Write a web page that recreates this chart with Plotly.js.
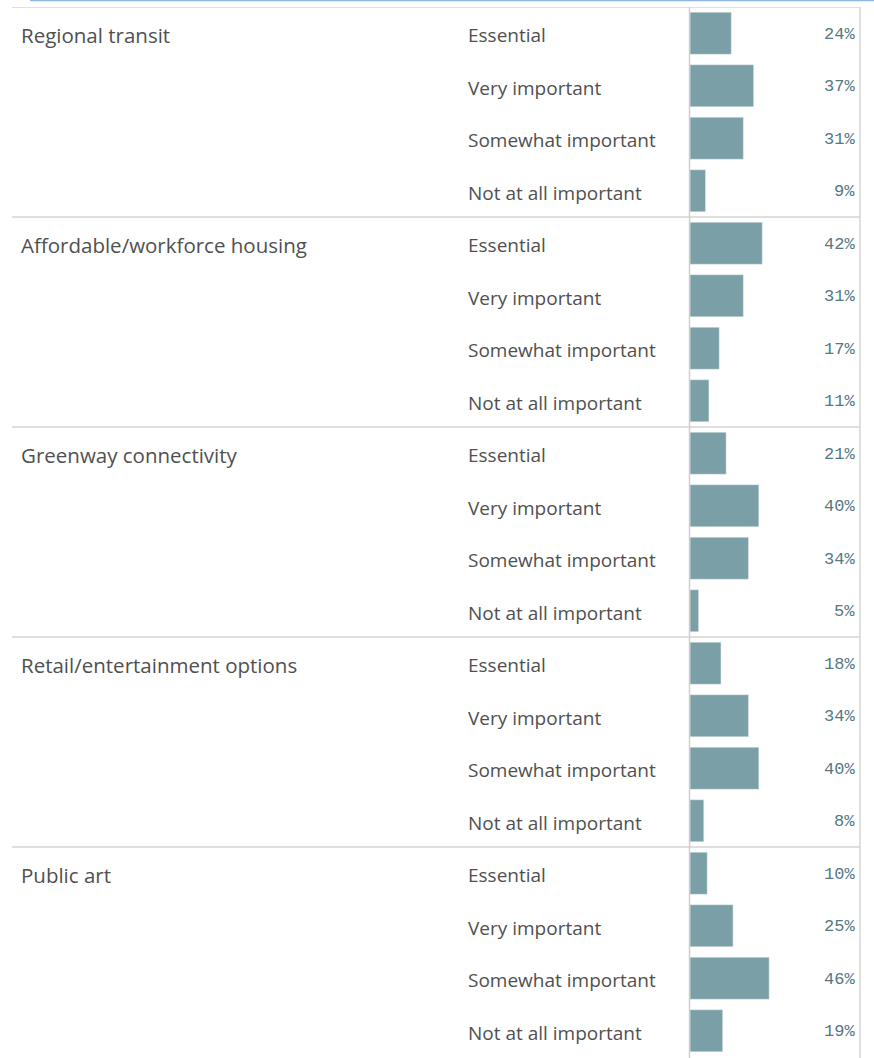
<!DOCTYPE html>
<html>
<head>
<meta charset="utf-8">
<script src="https://cdn.plot.ly/plotly-3.0.1.min.js"></script>
<style>
html,body{margin:0;padding:0;background:#fff;}
#chart{width:874px;height:1058px;}
</style>
</head>
<body>
<div id="chart"></div>
<script>
const groups = ["Regional transit", "Affordable/workforce housing", "Greenway connectivity", "Retail/entertainment options", "Public art"];
const levels = ["Essential", "Very important", "Somewhat important", "Not at all important"];
const regionalTransit = [24, 37, 31, 9];
const affordableHousing = [42, 31, 17, 11];
const greenwayConnectivity = [21, 40, 34, 5];
const retailEntertainment = [18, 34, 40, 8];
const publicArt = [10, 25, 46, 19];
const seriesByGroup = [regionalTransit, affordableHousing, greenwayConnectivity, retailEntertainment, publicArt];

const W = 874, H = 1058;
const L = 690, R = 14, T = 7, B = 1;
const plotW = W - L - R;
const px2paper = p => (p - L) / plotW;

const ys = [], xs = [], annotations = [], shapes = [];
groups.forEach((g, gi) => {
  levels.forEach((lv, li) => {
    const row = gi * levels.length + li;
    const v = seriesByGroup[gi][li];
    ys.push(row); xs.push(v);
    annotations.push({xref: 'paper', yref: 'y', x: px2paper(466), y: row, xanchor: 'left', yanchor: 'middle', yshift: -2,
      text: lv, showarrow: false, font: {family: 'Open Sans', size: 19, color: '#505050', weight: 500}});
    annotations.push({xref: 'paper', yref: 'y', x: px2paper(857), y: row, xanchor: 'right', yanchor: 'middle', yshift: -1,
      text: v + '%', showarrow: false, font: {family: 'Liberation Mono', size: 17, color: '#557883'}});
    if (li === 0) {
      annotations.push({xref: 'paper', yref: 'y', x: px2paper(19), y: row, xanchor: 'left', yanchor: 'middle', yshift: -2,
        text: g, showarrow: false, font: {family: 'Open Sans', size: 20.5, color: '#505050', weight: 500}});
    }
  });
  shapes.push({type: 'line', xref: 'paper', yref: 'y', x0: px2paper(12), x1: px2paper(860),
    y0: gi * levels.length - 0.5, y1: gi * levels.length - 0.5, line: {color: '#d4d4d4', width: 1.5}});
});
const nRows = groups.length * levels.length;
shapes.push({type: 'line', xref: 'paper', yref: 'paper', x0: px2paper(689.5), x1: px2paper(689.5), y0: 0 - B/(H-T-B), y1: 1, line: {color: '#cfcfcf', width: 1.5}});
shapes.push({type: 'line', xref: 'paper', yref: 'paper', x0: px2paper(860), x1: px2paper(860), y0: 0 - B/(H-T-B), y1: 1, line: {color: '#d4d4d4', width: 1.5}});
shapes.push({type: 'line', xref: 'paper', yref: 'paper', x0: px2paper(30), x1: px2paper(874), y0: 1 + 6.5/(H-T-B), y1: 1 + 6.5/(H-T-B), line: {color: '#8fb6e2', width: 1.5}});

const trace = {
  type: 'bar', orientation: 'h', x: xs, y: ys, width: 0.8,
  marker: {color: '#7b9fa6', line: {color: '#e6eef0', width: 0.5}},
  hoverinfo: 'skip'
};

const layout = {
  width: W, height: H,
  margin: {l: L, r: R, t: T, b: B, pad: 0},
  paper_bgcolor: '#ffffff', plot_bgcolor: '#ffffff',
  showlegend: false,
  xaxis: {range: [0, 98.8], showgrid: false, zeroline: false, showticklabels: false, ticks: '', showline: false, fixedrange: true},
  yaxis: {range: [nRows - 0.5, -0.5], showgrid: false, zeroline: false, showticklabels: false, ticks: '', showline: false, fixedrange: true},
  annotations: annotations,
  shapes: shapes
};

Plotly.newPlot('chart', [trace], layout, {displayModeBar: false, staticPlot: true});
</script>
</body>
</html>
